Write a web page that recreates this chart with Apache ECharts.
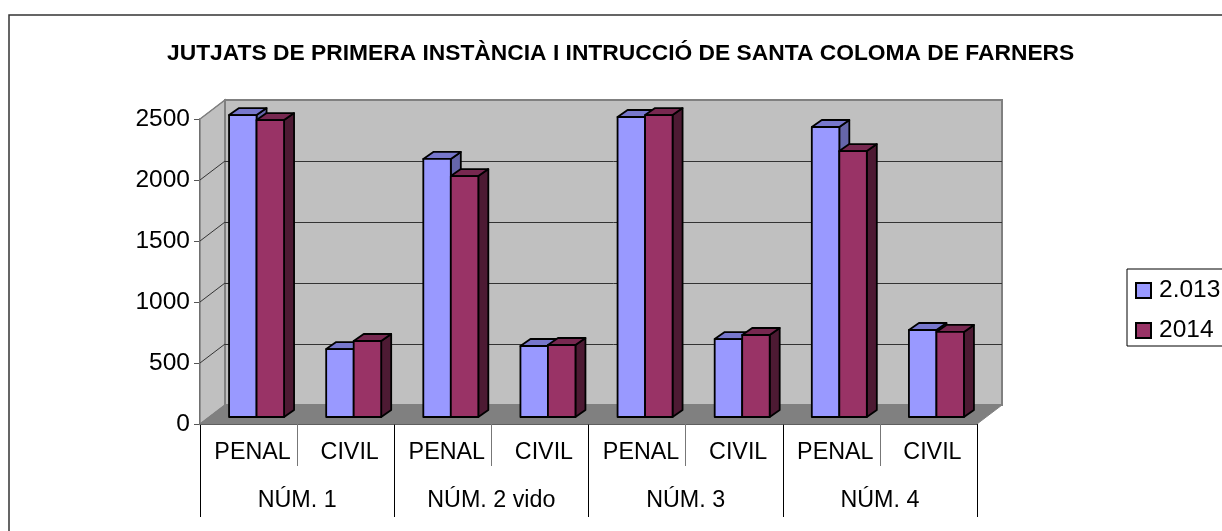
<!DOCTYPE html>
<html>
<head>
<meta charset="utf-8">
<title>Jutjats Santa Coloma de Farners</title>
<style>
html, body { margin: 0; padding: 0; background: #fff; overflow: hidden; }
#chart { width: 1222px; height: 531px; }
</style>
<script src="https://cdn.jsdelivr.net/npm/echarts@6/dist/echarts.min.js"></script>
</head>
<body>
<div id="chart"></div>
<script>
var chart_title = 'JUTJATS DE PRIMERA INSTÀNCIA I INTRUCCIÓ DE SANTA COLOMA DE FARNERS';
var categories = ['PENAL', 'CIVIL', 'PENAL', 'CIVIL', 'PENAL', 'CIVIL', 'PENAL', 'CIVIL'];
var groups = ['NÚM. 1', 'NÚM. 2 vido', 'NÚM. 3', 'NÚM. 4'];
var y_ticks = [0, 500, 1000, 1500, 2000, 2500];
var values_2013 = [2475, 557, 2115, 582, 2459, 639, 2377, 713];
var values_2014 = [2434, 623, 1975, 590, 2475, 672, 2180, 697];

var font = '"Liberation Sans", Arial, sans-serif';
var wall_dx = 25, wall_dy = 19;
var bar_dx = 10, bar_dy = 7;

function poly(points, fill) {
    return {
        type: 'polygon',
        shape: { points: points },
        style: { fill: fill, stroke: '#000', lineWidth: 1.8, lineJoin: 'round' }
    };
}

// back wall, side wall, floor and the gridlines
function render_wall(params, api) {
    var band = api.size([1, 0])[0];
    var x0 = api.coord([0, 0])[0] - band / 2;
    var x1 = api.coord([categories.length - 1, 0])[0] + band / 2;
    var y0 = api.coord([0, 0])[1];
    var yt = api.coord([0, y_ticks[y_ticks.length - 1]])[1];
    var last = y_ticks[y_ticks.length - 1];
    var kids = [
        { type: 'polygon', shape: { points: [[x0, y0], [x0 + wall_dx, y0 - wall_dy], [x0 + wall_dx, yt - wall_dy], [x0, yt]] },
          style: { fill: '#c0c0c0', stroke: '#808080', lineWidth: 1.5 } },
        { type: 'rect', shape: { x: x0 + wall_dx, y: yt - wall_dy, width: x1 - x0, height: y0 - yt },
          style: { fill: '#c0c0c0', stroke: '#808080', lineWidth: 2 } }
    ];
    y_ticks.forEach(function (t) {
        var y = api.coord([0, t])[1];
        if (t > 0 && t < last) {
            kids.push({ type: 'line', shape: { x1: x0 + wall_dx, y1: y - wall_dy + 0.5, x2: x1 + wall_dx, y2: y - wall_dy + 0.5 },
                style: { stroke: '#333', lineWidth: 1 } });
        }
        if (t > 0) {
            kids.push({ type: 'line', shape: { x1: x0, y1: y, x2: x0 + wall_dx, y2: y - wall_dy },
                style: { stroke: t < last ? '#333' : '#808080', lineWidth: 1 } });
        }
    });
    kids.push({ type: 'polygon', shape: { points: [[x0, y0], [x0 + wall_dx, y0 - wall_dy], [x1 + wall_dx, y0 - wall_dy], [x1, y0]] },
        style: { fill: '#808080', stroke: '#808080', lineWidth: 1 } });
    return { type: 'group', children: kids };
}

function bar_renderer(slot, front, top, side) {
    return function (params, api) {
        var w = 27.5;
        var p0 = api.coord([api.value(0), 0]);
        var p1 = api.coord([api.value(0), api.value(1)]);
        var x = p0[0] - w + 8 + slot * w;
        var y0 = p0[1] - bar_dy;
        var y1 = p1[1] - bar_dy;
        return {
            type: 'group',
            children: [
                poly([[x + w, y0], [x + w + bar_dx, y0 - bar_dy], [x + w + bar_dx, y1 - bar_dy], [x + w, y1]], side),
                poly([[x, y1], [x + bar_dx, y1 - bar_dy], [x + w + bar_dx, y1 - bar_dy], [x + w, y1]], top),
                poly([[x, y0], [x + w, y0], [x + w, y1], [x, y1]], front)
            ]
        };
    };
}

function to_rows(values) {
    return values.map(function (v, i) { return [i, v]; });
}

var chart = echarts.init(document.getElementById('chart'), null, { renderer: 'canvas' });

chart.setOption({
    animation: false,
    backgroundColor: '#fff',
    textStyle: { fontFamily: font },
    title: {
        text: chart_title,
        left: 167,
        top: 42,
        padding: 0,
        textStyle: { fontFamily: font, fontSize: 22.8, fontWeight: 'bold', color: '#000' }
    },
    legend: {
        orient: 'vertical',
        left: 1127,
        top: 269,
        padding: [9, 12, 3, 8],
        itemWidth: 15,
        itemHeight: 15,
        itemGap: 15,
        borderColor: '#000',
        borderWidth: 1,
        icon: 'rect',
        data: ['2.013', '2014'],
        textStyle: { fontFamily: font, fontSize: 24.5, color: '#000', padding: [0, 0, 0, 3] }
    },
    graphic: [{
        type: 'rect',
        silent: true,
        z: -10,
        shape: { x: 9, y: 15, width: 1400, height: 700 },
        style: { fill: 'none', stroke: '#333', lineWidth: 1.5 }
    }],
    grid: { left: 200, top: 119, width: 777, height: 305, containLabel: false },
    xAxis: [{
        type: 'category',
        position: 'bottom',
        data: categories,
        axisLine: { lineStyle: { color: '#000', width: 1.5 } },
        axisTick: { show: true, interval: 0, length: 42, lineStyle: { color: '#777', width: 1 } },
        axisLabel: { interval: 0, margin: 17, color: '#000', fontSize: 23.3, fontFamily: font, padding: [0, 0, 0, 8] }
    }, {
        type: 'category',
        position: 'bottom',
        data: groups,
        axisLine: { show: false },
        axisTick: { show: true, interval: 0, length: 93, lineStyle: { color: '#000', width: 1 } },
        axisLabel: { interval: 0, margin: 65, color: '#000', fontSize: 23.3, fontFamily: font }
    }],
    yAxis: {
        type: 'value',
        min: 0,
        max: 2500,
        interval: 500,
        splitLine: { show: false },
        axisLine: { show: true, lineStyle: { color: '#000', width: 1.5 } },
        axisTick: { show: true, length: 6, lineStyle: { color: '#555' } },
        axisLabel: {
            margin: 10, color: '#000', fontSize: 24.5, fontFamily: font, padding: [6, 0, 0, 0],
            formatter: function (v) { return String(v); }
        }
    },
    series: [{
        type: 'custom',
        name: 'wall',
        silent: true,
        clip: false,
        z: 1,
        xAxisIndex: 0,
        renderItem: render_wall,
        data: [[0, 0]]
    }, {
        type: 'custom',
        name: '2.013',
        clip: false,
        z: 2,
        xAxisIndex: 0,
        encode: { x: 0, y: 1 },
        itemStyle: { color: '#9999ff', borderColor: '#000', borderWidth: 1.5 },
        renderItem: bar_renderer(0, '#9999ff', '#7777cc', '#6666aa'),
        data: to_rows(values_2013)
    }, {
        type: 'custom',
        name: '2014',
        clip: false,
        z: 3,
        xAxisIndex: 0,
        encode: { x: 0, y: 1 },
        itemStyle: { color: '#993366', borderColor: '#000', borderWidth: 1.5 },
        renderItem: bar_renderer(1, '#993366', '#772850', '#4d1a33'),
        data: to_rows(values_2014)
    }]
});
</script>
</body>
</html>
